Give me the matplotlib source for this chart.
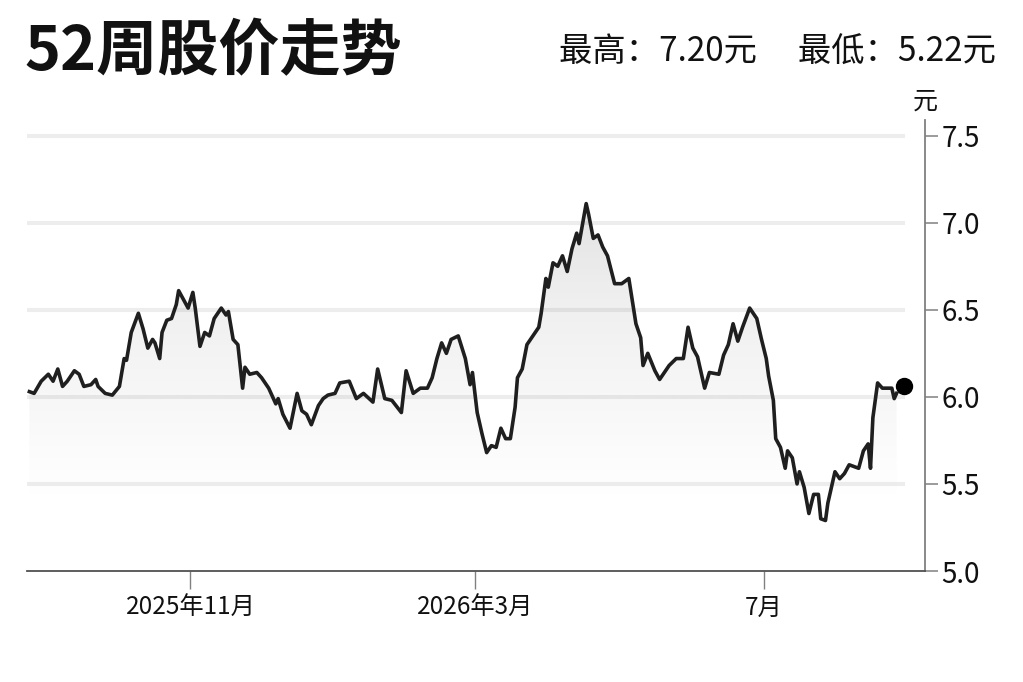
import matplotlib

matplotlib.use("Agg")
import matplotlib.pyplot as plt
import matplotlib.dates as mdates
import numpy as np
import pandas as pd
from matplotlib.patches import Polygon

plt.rcParams["font.family"] = ["Noto Sans CJK SC", "DejaVu Sans"]

# ---- data ----------------------------------------------------------------
dates = [
    "2025-08-25", "2025-08-27", "2025-08-30", "2025-09-02", "2025-09-04", "2025-09-06",
    "2025-09-08", "2025-09-10", "2025-09-13", "2025-09-15", "2025-09-17", "2025-09-20",
    "2025-09-22", "2025-09-23", "2025-09-26", "2025-09-29", "2025-10-02", "2025-10-04",
    "2025-10-05", "2025-10-07", "2025-10-10", "2025-10-12", "2025-10-14", "2025-10-16",
    "2025-10-17", "2025-10-19", "2025-10-20", "2025-10-22", "2025-10-24", "2025-10-26",
    "2025-10-27", "2025-10-31", "2025-11-02", "2025-11-03", "2025-11-05", "2025-11-07",
    "2025-11-09", "2025-11-11", "2025-11-14", "2025-11-16", "2025-11-17", "2025-11-19",
    "2025-11-21", "2025-11-23", "2025-11-24", "2025-11-26", "2025-11-29", "2025-12-01",
    "2025-12-04", "2025-12-07", "2025-12-08", "2025-12-10", "2025-12-13", "2025-12-16",
    "2025-12-18", "2025-12-20", "2025-12-22", "2025-12-25", "2025-12-27", "2025-12-29",
    "2026-01-01", "2026-01-03", "2026-01-07", "2026-01-10", "2026-01-13", "2026-01-17",
    "2026-01-19", "2026-01-22", "2026-01-25", "2026-01-29", "2026-01-31", "2026-02-03",
    "2026-02-06", "2026-02-09", "2026-02-11", "2026-02-13", "2026-02-15", "2026-02-17",
    "2026-02-19", "2026-02-22", "2026-02-25", "2026-02-27", "2026-02-28", "2026-03-02",
    "2026-03-04", "2026-03-06", "2026-03-08", "2026-03-10", "2026-03-12", "2026-03-14",
    "2026-03-16", "2026-03-18", "2026-03-19", "2026-03-21", "2026-03-23", "2026-03-26",
    "2026-03-28", "2026-03-29", "2026-03-31", "2026-04-01", "2026-04-03", "2026-04-05",
    "2026-04-07", "2026-04-09", "2026-04-11", "2026-04-13", "2026-04-14", "2026-04-17",
    "2026-04-18", "2026-04-20", "2026-04-22", "2026-04-24", "2026-04-26", "2026-04-29",
    "2026-05-02", "2026-05-05", "2026-05-08", "2026-05-10", "2026-05-11", "2026-05-13",
    "2026-05-16", "2026-05-18", "2026-05-22", "2026-05-25", "2026-05-28", "2026-05-30",
    "2026-06-01", "2026-06-03", "2026-06-06", "2026-06-08", "2026-06-12", "2026-06-14",
    "2026-06-16", "2026-06-18", "2026-06-20", "2026-06-22", "2026-06-25", "2026-06-28",
    "2026-06-30", "2026-07-02", "2026-07-03", "2026-07-05", "2026-07-06", "2026-07-08",
    "2026-07-10", "2026-07-11", "2026-07-13", "2026-07-15", "2026-07-16", "2026-07-18",
    "2026-07-20", "2026-07-22", "2026-07-24", "2026-07-25", "2026-07-27", "2026-07-28",
    "2026-07-31", "2026-08-02", "2026-08-04", "2026-08-06", "2026-08-08", "2026-08-10",
    "2026-08-12", "2026-08-14", "2026-08-15", "2026-08-16", "2026-08-18", "2026-08-20",
    "2026-08-22", "2026-08-24", "2026-08-25", "2026-08-26",
]
prices = [
    6.03, 6.02, 6.09, 6.13, 6.09, 6.16,
    6.06, 6.09, 6.15, 6.13, 6.06, 6.07,
    6.10, 6.06, 6.02, 6.01, 6.06, 6.22,
    6.21, 6.37, 6.48, 6.39, 6.28, 6.33,
    6.31, 6.22, 6.37, 6.44, 6.45, 6.53,
    6.61, 6.51, 6.60, 6.51, 6.29, 6.37,
    6.35, 6.45, 6.51, 6.47, 6.49, 6.33,
    6.30, 6.05, 6.17, 6.13, 6.14, 6.11,
    6.05, 5.96, 5.99, 5.90, 5.82, 6.02,
    5.92, 5.90, 5.84, 5.95, 5.99, 6.01,
    6.02, 6.08, 6.09, 5.99, 6.02, 5.97,
    6.16, 5.99, 5.98, 5.91, 6.15, 6.02,
    6.05, 6.05, 6.11, 6.22, 6.31, 6.25,
    6.33, 6.35, 6.22, 6.07, 6.14, 5.91,
    5.79, 5.68, 5.72, 5.71, 5.82, 5.76,
    5.76, 5.94, 6.11, 6.16, 6.30, 6.36,
    6.40, 6.48, 6.68, 6.63, 6.77, 6.75,
    6.81, 6.72, 6.85, 6.94, 6.88, 7.11,
    7.05, 6.91, 6.93, 6.86, 6.81, 6.65,
    6.65, 6.68, 6.42, 6.34, 6.18, 6.25,
    6.15, 6.10, 6.18, 6.22, 6.22, 6.40,
    6.28, 6.23, 6.05, 6.14, 6.13, 6.24,
    6.30, 6.42, 6.32, 6.40, 6.51, 6.45,
    6.33, 6.22, 6.12, 5.98, 5.76, 5.71,
    5.59, 5.69, 5.65, 5.50, 5.57, 5.48,
    5.33, 5.44, 5.44, 5.30, 5.29, 5.39,
    5.57, 5.53, 5.56, 5.61, 5.60, 5.59,
    5.69, 5.73, 5.59, 5.88, 6.08, 6.05,
    6.05, 6.05, 5.99, 6.02,
]
last_date = "2026-08-29"
last_price = 6.06

tick_dates = ["2025-11-01", "2026-03-01", "2026-07-01"]
tick_labels = ["2025年11月", "2026年3月", "7月"]
y_ticks = [5.0, 5.5, 6.0, 6.5, 7.0, 7.5]
y_tick_labels = ["5.0", "5.5", "6.0", "6.5", "7.0", "7.5"]

title = "52周股价走势"
high_low = "最高：7.20元　 最低：5.22元"
unit = "元"

# ---- figure --------------------------------------------------------------
fig = plt.figure(figsize=(10.23, 6.82), dpi=100)
ax = fig.add_axes([27 / 1023, 111 / 682, (925 - 27) / 1023, (571 - 120) / 682])

x = mdates.date2num(pd.to_datetime(dates))
y = np.array(prices)
x0 = mdates.date2num(pd.Timestamp("2025-08-24"))
x1 = mdates.date2num(pd.Timestamp("2026-09-07"))
ymin, ymax = 5.0, 7.59
ax.set_xlim(x0, x1)
ax.set_ylim(ymin, ymax)

# gradient fill under the line
grad = np.linspace(0.0, 1.0, 256).reshape(-1, 1)
grad = np.clip((grad - 0.19) / 0.81, 0, 1)  # 0 at ~5.5, 1 at top
img = ax.imshow(grad, extent=[x[0], x[-1], ymin, 7.15], origin="lower",
                cmap="Greys", vmin=0, vmax=5.0, aspect="auto", zorder=1)
poly = Polygon(np.column_stack([np.r_[x, x[-1], x[0]], np.r_[y, ymin, ymin]]),
               closed=True, facecolor="none", edgecolor="none")
ax.add_patch(poly)
img.set_clip_path(poly)

# grid
for v in y_ticks[1:]:
    ax.axhline(v, xmin=0, xmax=0.976, color="black", alpha=0.07, lw=3, zorder=2)

ax.plot(x, y, color="#1f1f1f", lw=2.6, zorder=3, solid_joinstyle="round")
ax.plot(mdates.date2num(pd.Timestamp(last_date)), last_price, "o", color="black",
        ms=11.5, zorder=4)

# axes styling
for side in ("top", "left"):
    ax.spines[side].set_visible(False)
ax.spines["right"].set_color("#808080")
ax.spines["right"].set_linewidth(1.3)
ax.spines["bottom"].set_color("#505050")
ax.spines["bottom"].set_linewidth(1.3)

ax.yaxis.tick_right()
ax.set_yticks(y_ticks)
ax.set_yticklabels(y_tick_labels)
ax.tick_params(axis="y", length=9, width=1.1, color="#808080", labelsize=20,
               pad=3, labelcolor="#111111")
ax.set_xticks(mdates.date2num(pd.to_datetime(tick_dates)))
ax.set_xticklabels(tick_labels)
ax.tick_params(axis="x", length=13, width=1.0, color="#808080", labelsize=17.5,
               pad=4, labelcolor="#111111")

fig.text(24 / 1023, 1 - 52 / 682, title, fontsize=44, fontweight="bold",
         va="center", ha="left", color="#111111")
fig.text(996 / 1023, 1 - 52 / 682, high_low, fontsize=24, va="center", ha="right",
         color="#111111")
fig.text(925 / 1023, 1 - 102 / 682, unit, fontsize=18, va="center", ha="center",
         color="#111111")

fig.savefig("out.png", dpi=100, facecolor="white")
